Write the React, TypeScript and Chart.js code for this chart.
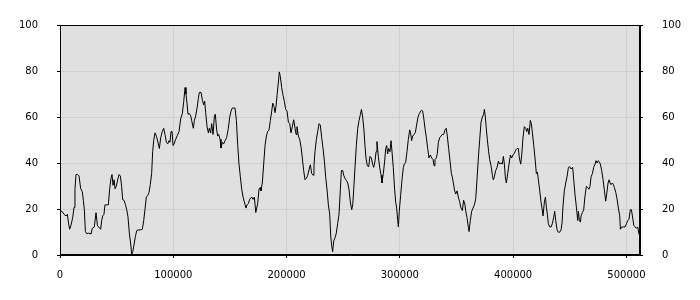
import React, { useEffect, useRef } from "react";
import { Chart, registerables } from "chart.js";

Chart.register(...registerables);

// x positions in thousands
const xThousands: number[] = [
  0, 2.1, 3.5, 5.3, 6.5, 7.4, 8.5, 9.7, 11.2, 12.4, 13.2, 14.1, 15.6, 16.8, 18.2, 19.7, 20.6, 21.5, 22.4, 23.5,
  25, 26.5, 27.4, 28.5, 30.3, 31.8, 33, 34.1, 35.9, 36.8, 37.7, 38.8, 39.7, 41.2, 42.7, 43.8, 45, 45.9, 46.8, 47.7,
  48.6, 49.7, 50.9, 52.1, 53.3, 54.4, 55.3, 56.5, 57.7, 58.9, 60, 61.2, 62.4, 63.3, 64.2, 65.3, 66.5, 67.7, 69.1, 70.9,
  72.7, 73.9, 75, 76.2, 77.4, 78.6, 79.7, 80.9, 81.8, 82.7, 83.9, 85.3, 86.8, 87.7, 88.9, 90.3, 91.5, 92.7, 93.9, 95.1,
  96.2, 97.1, 98, 98.9, 99.8, 100.7, 102.1, 103.6, 105.1, 106.5, 108, 109.2, 110.4, 111.2, 112.1, 113, 114.2, 115.4, 116.2, 117.7,
  118.6, 119.8, 121, 122.1, 123, 124.5, 125.7, 126.8, 127.7, 128.6, 129.8, 131, 131.8, 133, 133.9, 135.1, 136.3, 137.1, 138.3, 139.2,
  140.1, 141.3, 142.1, 143.3, 144.5, 145.7, 147.1, 148.6, 149.8, 151, 152.1, 153.3, 154.5, 155.7, 156.9, 158, 159.2, 160.4, 161.6, 162.7,
  164.2, 165.1, 166.3, 167.4, 169.2, 170.4, 171.6, 172.8, 174.5, 175.7, 176.6, 177.4, 178.6, 179.8, 181, 182.2, 183.3, 184.5, 185.7, 186.9,
  187.8, 188.9, 189.8, 190.7, 191.6, 192.7, 193.6, 194.5, 195.7, 196.9, 198.1, 199.2, 200.4, 201.6, 202.8, 203.9, 205.1, 206.3, 207.5, 208.4,
  209.2, 210.4, 211.6, 212.8, 213.9, 215.1, 216.3, 217.5, 218.7, 219.8, 221, 222.2, 223.4, 224.2, 225.1, 226.3, 227.5, 228.7, 229.8, 231,
  232.2, 233.4, 234.5, 235.7, 236.9, 238.1, 239, 239.8, 240.7, 241.6, 242.8, 243.9, 245.1, 246.3, 247.5, 248.4, 249.6, 250.4, 251.6, 252.8,
  254, 255.1, 256.3, 257.5, 258.4, 259.3, 260.4, 261.6, 262.8, 264, 265.2, 266.1, 267.2, 268.3, 269.2, 270.1, 271.3, 272.5, 273.6, 274.8,
  276, 276.9, 278.1, 279, 279.8, 281, 282.2, 283.4, 284.2, 285.4, 286.6, 287.5, 288.4, 289.2, 290.1, 291.3, 292.2, 293.1, 294.2, 295.4,
  296.3, 297.2, 298.1, 298.7, 299.5, 300.7, 301.9, 303.1, 304, 305.1, 306.3, 307.5, 308.7, 309.5, 310.4, 311.3, 312.5, 313.7, 314.8, 316,
  317.2, 318.4, 319.3, 320.1, 321, 322.2, 323.4, 324.6, 325.7, 326.9, 328.1, 329.3, 330.2, 331, 332.2, 333.1, 334, 335.2, 336.3, 337.5,
  338.7, 339.9, 341, 341.9, 343.1, 344.3, 345.5, 346.3, 347.2, 348.4, 349.3, 350.5, 351.6, 352.8, 354, 355.2, 356.3, 357.5, 358.1, 359.3,
  360.5, 361.1, 362.2, 363.4, 364.6, 365.8, 367, 368.1, 369.3, 370.5, 371.7, 372.8, 374, 374.6, 375.5, 376.4, 377.2, 378.4, 379.3, 380.5,
  381.7, 382.5, 383.4, 384.6, 385.8, 387, 388.1, 389.3, 390.5, 391.4, 392.3, 393.1, 394, 395.2, 396.4, 397.6, 398.7, 399.9, 401.1, 402.3,
  403.4, 404.6, 405.5, 406.7, 407.6, 408.7, 409.9, 411.1, 412, 412.9, 414, 415.2, 416.1, 417, 418.2, 419.3, 420.5, 421.4, 422.3, 423.5,
  424.6, 425.5, 426.4, 427.6, 428.5, 429.3, 430.2, 431.1, 432.3, 433.5, 434.6, 435.8, 436.7, 437.6, 438.8, 439.9, 441.1, 442.3, 443.2, 444.1,
  445.2, 446.4, 447.6, 448.8, 450, 451.1, 452.6, 453.5, 454.7, 455.8, 457, 457.6, 458.5, 459.4, 460, 461.1, 462.3, 463.5, 464.7, 465.8,
  467, 467.9, 468.8, 470, 471.1, 472.3, 473.2, 474.1, 475, 476.1, 477, 478.2, 479.4, 480.6, 481.7, 482.6, 483.8, 484.7, 485.6, 486.4,
  487.6, 488.5, 489.4, 490.6, 491.7, 492.9, 494.1, 494.7, 495.9, 497.3, 498.8, 500, 501.2, 502.3, 503.5, 504.4, 505.3, 506.5, 507.6, 508.8,
  510, 510.9, 512,
];

const values: number[] = [
  19.3, 18.8, 17.7, 17, 17.7, 14.3, 11.2, 12.9, 16.3, 20.7, 28.6, 35, 35, 34.4, 29, 27.5, 23.8, 19.7, 10.2, 9.3,
  9.5, 9.3, 9.1, 11.6, 12.2, 18.4, 12.9, 12.2, 11.2, 15, 17, 17.7, 21.8, 21.8, 21.8, 28.6, 33.3, 35, 30.3, 32.7,
  28.8, 29.9, 32.7, 35, 34.3, 29.9, 24.1, 23.8, 22, 19.7, 16.6, 9.5, 4.8, 0.3, 1.4, 4.4, 7.9, 10.6, 10.9, 10.9,
  11.2, 15, 19.7, 25.2, 25.9, 27.2, 30.6, 35.4, 44.9, 49.7, 53.1, 51.4, 48.3, 46.3, 51, 53.7, 55.1, 52.4, 49, 48.3,
  49.7, 49, 53.7, 53.7, 47.6, 48.3, 50.3, 52, 53.7, 59.2, 61.5, 66.7, 72.8, 70, 66, 61.2, 61.5, 60.5, 58.5, 55.1,
  58.5, 60.5, 63.9, 68, 70.7, 70.7, 67.3, 65.3, 66.9, 61.9, 55.8, 53.1, 55.1, 53.1, 57.1, 52.4, 60.5, 61.2, 54.4, 51.7,
  52.4, 50.3, 46.5, 49, 48.3, 49.7, 51, 55.1, 59.9, 62.6, 63.9, 63.9, 63.9, 58.5, 47.6, 39.5, 34, 28.6, 25.2, 23.1,
  20.4, 21.8, 22.4, 24.2, 25.2, 24.2, 25.2, 18.5, 22.4, 28.6, 29.3, 27.9, 31.3, 39.5, 47.6, 51.7, 53.7, 54.4, 58.5, 62.6,
  66, 64.6, 61.9, 64.6, 69.4, 74.8, 79.6, 77.6, 72.8, 69.4, 66.7, 63.3, 62.6, 57.8, 57.1, 53.1, 55.8, 58.8, 55.1, 52.4,
  55.8, 51.7, 50.3, 46.9, 42.2, 36.7, 32.7, 33.3, 34.7, 37, 39.2, 35.4, 34.7, 38.8, 44.9, 50.3, 53.7, 57.1, 56.5, 51,
  46.3, 40.8, 34, 28.6, 21.8, 17.7, 8.2, 4.1, 1.4, 6.1, 7.5, 9.5, 13.6, 17.7, 28.6, 36.7, 36.7, 34.7, 33.3, 32.4,
  31.3, 28.6, 23.1, 19.7, 21.8, 28.6, 38.1, 47.6, 55.1, 58.5, 61.2, 63.3, 59.9, 54.4, 47.6, 42.2, 38.8, 38.4, 42.9, 42.2,
  39.5, 38.1, 40.8, 44.9, 49.3, 42.9, 38.1, 34.7, 31.3, 35.4, 40.8, 46.3, 47.6, 43.9, 46.3, 44.9, 49.7, 44.9, 38.1, 28.6,
  23.1, 20.4, 15, 12.2, 19, 25.9, 32.7, 38.1, 39.7, 40.1, 44.9, 50.3, 54.4, 53.1, 49.7, 51.7, 52.4, 53.3, 56.5, 59.9,
  61.5, 62.6, 63, 62.6, 59.9, 55.1, 51, 46.3, 42.2, 43.5, 42.2, 41.5, 38.8, 41.5, 42.2, 44.2, 49, 51, 51.7, 52.4,
  52.4, 54.4, 55.1, 51.7, 46.3, 40.8, 35.4, 34, 31.3, 27.9, 26.5, 27.9, 25.2, 23.1, 20.4, 19.3, 23.8, 21.8, 19.3, 16.3,
  12, 10.2, 15, 19, 20.4, 21.8, 24.5, 32.7, 42.2, 50.3, 57.8, 59.9, 61.2, 63.3, 59.9, 54.4, 50.3, 44.9, 41.5, 38.8,
  34.7, 32.7, 34, 36.7, 38.1, 40.8, 39.5, 40.1, 39.5, 42.9, 39.5, 34, 31.3, 35.4, 39.5, 43.5, 42.2, 43.5, 44.2, 45.6,
  46.3, 46.3, 42.2, 39.5, 43.5, 51, 55.8, 55.1, 53.7, 55.1, 52.4, 58.5, 57.1, 53.1, 47.6, 42.2, 35.4, 36.1, 32.7, 27.9,
  23.1, 20.4, 17, 23.1, 25.2, 21.1, 17.7, 13.6, 12.2, 12.2, 13.6, 16.3, 19, 15, 10.9, 9.9, 9.9, 10.9, 14, 21.8,
  27.9, 31.3, 34, 38.1, 38.4, 37.4, 38.1, 32.7, 25.9, 21.1, 15, 19, 15, 14.3, 17, 18.4, 19.7, 25.9, 29.9, 29.3,
  28.6, 29.9, 34, 35.4, 38.1, 39.5, 41, 40, 41, 40.5, 39.5, 36.7, 32.7, 27.9, 23.4, 26.5, 31.3, 32.7, 31.3, 30.6,
  31.3, 30.6, 29.3, 27.2, 24.5, 20.4, 17, 11.2, 12.2, 12.2, 12.2, 13.6, 15, 15.6, 19.7, 19.7, 17, 12.9, 12.2, 11.6,
  12.2, 9.5, 8.2,
];

const xTickValues: number[] = [0, 100000, 200000, 300000, 400000, 500000];
const xMin = 0;
const xMax = 512000;
const yMin = 0;
const yMax = 100;
const yStep = 20;

const FONT = { family: "DejaVu Sans", size: 10 };

const plotFrame = {
  id: "plotFrame",
  beforeDraw(chart: any) {
    const { ctx, chartArea } = chart;
    const { left, top, right, bottom } = chartArea;
    ctx.save();
    ctx.fillStyle = "#e0e0e0";
    ctx.fillRect(left, top, right - left, bottom - top);
    ctx.restore();
  },
  afterDraw(chart: any) {
    const { ctx, chartArea } = chart;
    const { left, top, right, bottom } = chartArea;
    ctx.save();
    ctx.strokeStyle = "#000";
    ctx.lineWidth = 1;
    ctx.strokeRect(Math.round(left) + 0.5, Math.round(top) + 0.5, Math.round(right - left) - 1, Math.round(bottom - top) - 1);
    ctx.restore();
  },
};

export default function App() {
  const ref = useRef<HTMLCanvasElement | null>(null);

  useEffect(() => {
    if (!ref.current) return;
    const points = xThousands.map((x, i) => ({ x: x * 1000, y: values[i] }));
    const yTicks = {
      stepSize: yStep,
      color: "#000",
      font: FONT,
      padding: 19,
    };
    const chart = new Chart(ref.current, {
      type: "line",
      data: {
        datasets: [
          {
            data: points,
            borderColor: "#000",
            borderWidth: 1,
            pointRadius: 0,
            fill: false,
            tension: 0,
          },
        ],
      },
      options: {
        animation: false,
        responsive: false,
        devicePixelRatio: 1,
        layout: { padding: { top: 10, left: 0, right: 0, bottom: 0 } },
        plugins: { legend: { display: false }, tooltip: { enabled: false } },
        scales: {
          x: {
            type: "linear",
            min: xMin,
            max: xMax,
            border: { color: "#000", width: 1 },
            grid: { color: "#d0d0d0", tickColor: "#000", tickLength: 3 },
            ticks: {
              color: "#000",
              font: FONT,
              padding: 11,
              maxRotation: 0,
              autoSkip: false,
              callback: (v: any) => String(v),
            },
            afterBuildTicks: (s: any) => {
              s.ticks = xTickValues.map((v) => ({ value: v }));
            },
            afterFit: (s: any) => {
              s.height = 45;
            },
          },
          y: {
            type: "linear",
            position: "left",
            min: yMin,
            max: yMax,
            border: { color: "#000", width: 1 },
            grid: { color: "#d0d0d0", tickColor: "#000", tickLength: 3 },
            ticks: yTicks,
            afterFit: (s: any) => {
              s.width = 60;
            },
          },
          y2: {
            type: "linear",
            position: "right",
            min: yMin,
            max: yMax,
            border: { color: "#000", width: 1 },
            grid: { drawOnChartArea: false, tickColor: "#000", tickLength: 3 },
            ticks: { ...yTicks },
            afterFit: (s: any) => {
              s.width = 60;
            },
          },
        },
      },
      plugins: [plotFrame],
    } as any);
    return () => chart.destroy();
  }, []);

  return (
    <div style={{ position: "fixed", left: 0, top: 0, width: 700, height: 300, background: "#fff" }}>
      <canvas ref={ref} width={700} height={300} style={{ display: "block" }} />
    </div>
  );
}
